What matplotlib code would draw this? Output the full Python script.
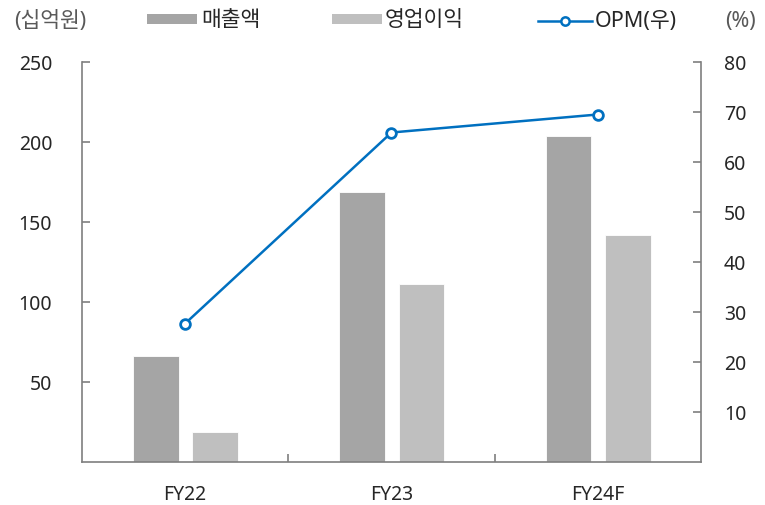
import matplotlib
matplotlib.use("Agg")
import matplotlib.pyplot as plt
from matplotlib.patches import Rectangle
from matplotlib.lines import Line2D
import numpy as np

plt.rcParams['font.family'] = ['Noto Sans', 'Noto Sans CJK KR']

categories = ["FY22", "FY23", "FY24F"]
revenue = [66.3, 168.7, 204.0]        # 매출액 (십억원)
op_income = [18.6, 111.4, 141.7]      # 영업이익 (십억원)
opm = [27.7, 65.9, 69.5]              # OPM (%)
left_ticks = [50, 100, 150, 200, 250]
right_ticks = [10, 20, 30, 40, 50, 60, 70, 80]
legend_labels = ["매출액", "영업이익", "OPM(우)"]

c_rev = "#A5A5A5"
c_op = "#BFBFBF"
c_line = "#0070C0"
c_axis = "#7F7F7F"
c_text = "#262626"
c_unit = "#595959"

W, H = 765, 505
fig = plt.figure(figsize=(W / 100, H / 100), dpi=100)
ax = fig.add_axes([82 / W, 1 - 462 / H, (701 - 82) / W, 400 / H])
x = np.arange(len(categories))
w = 0.222
ax.bar(x - 0.142, revenue, width=w, color=c_rev, edgecolor="white", linewidth=0.6, zorder=2)
ax.bar(x + 0.145, op_income, width=w, color=c_op, edgecolor="white", linewidth=0.6, zorder=2)
ax.set_xlim(-0.5, 2.5)
ax.set_ylim(0, 250)
ax.set_yticks(left_ticks)
ax.set_xticks(x)
ax.set_xticklabels(categories)
ax.set_xticks([0.5, 1.5], minor=True)
ax.tick_params(axis='x', which='major', length=0, pad=16.5, labelsize=14, colors=c_text)
ax.tick_params(axis='x', which='minor', direction='in', length=6, width=1.2, color=c_axis)
ax.tick_params(axis='y', direction='in', length=6, width=1.2, color=c_axis,
               labelsize=14, labelcolor=c_text, pad=21.5)
for s in ['top', 'right']:
    ax.spines[s].set_visible(False)
for s in ['left', 'bottom']:
    ax.spines[s].set_color(c_axis)
    ax.spines[s].set_linewidth(1.2)

ax2 = ax.twinx()
ax2.plot(x, opm, color=c_line, linewidth=1.8, marker='o', markersize=7,
         markerfacecolor='white', markeredgecolor=c_line, markeredgewidth=2, zorder=3)
ax2.set_ylim(0, 80)
ax2.set_yticks(right_ticks)
ax2.tick_params(axis='y', direction='in', length=6, width=1.2, color=c_axis,
                labelsize=14, labelcolor=c_text, pad=16.5)
for s in ['top', 'left', 'bottom']:
    ax2.spines[s].set_visible(False)
ax2.spines['right'].set_color(c_axis)
ax2.spines['right'].set_linewidth(1.2)


def fx(px):
    return px / W


def fy(py):
    return 1 - py / H


fs = 15.5
ty = fy(21)
# unit labels
fig.text(fx(14), ty, "(십억원)", fontsize=fs, color=c_unit, va='center', ha='left')
fig.text(fx(725), ty, "(%)", fontsize=fs, color=c_unit, va='center', ha='left')

# legend
fig.add_artist(Rectangle((fx(147), fy(24)), fx(50), 10 / H, transform=fig.transFigure,
                         facecolor=c_rev, edgecolor='none'))
fig.text(fx(201), ty, legend_labels[0], fontsize=fs, color=c_text, va='center', ha='left')
fig.add_artist(Rectangle((fx(332), fy(24)), fx(50), 10 / H, transform=fig.transFigure,
                         facecolor=c_op, edgecolor='none'))
fig.text(fx(385), ty, legend_labels[1], fontsize=fs, color=c_text, va='center', ha='left')
fig.add_artist(Line2D([fx(538), fx(592)], [fy(21), fy(21)], transform=fig.transFigure,
                      color=c_line, linewidth=1.8))
fig.add_artist(Line2D([fx(565)], [fy(21)], transform=fig.transFigure, marker='o',
                      markersize=6, markerfacecolor='white', markeredgecolor=c_line,
                      markeredgewidth=1.8, linestyle='none'))
fig.text(fx(595), ty, legend_labels[2], fontsize=fs, color=c_text, va='center', ha='left')

fig.savefig("out.png", dpi=100)
